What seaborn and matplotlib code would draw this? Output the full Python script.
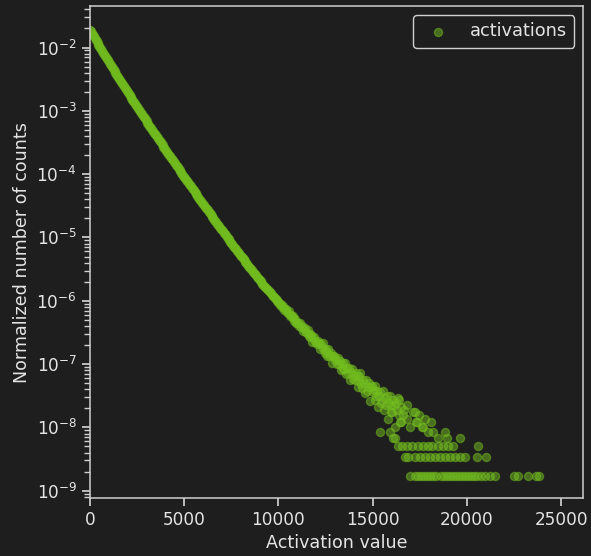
import numpy as np
import pandas as pd
import matplotlib
matplotlib.use("Agg")
import matplotlib.pyplot as plt
import seaborn as sns

# ---------------------------------------------------------------------------
# Histogram of activation values (normalized counts)
# ---------------------------------------------------------------------------

# Dense part: log10 of the normalized count, one bin every 50 units (0 .. 10000)
curve_x = np.arange(0, 10001, 50)
curve_log10 = [
    -1.720, -1.746, -1.773, -1.799, -1.825, -1.851, -1.877, -1.903, -1.929, -1.954,
    -1.980, -2.005, -2.031, -2.056, -2.081, -2.106, -2.131, -2.156, -2.181, -2.205,
    -2.230, -2.254, -2.278, -2.302, -2.326, -2.350, -2.373, -2.397, -2.421, -2.445,
    -2.469, -2.493, -2.517, -2.540, -2.564, -2.588, -2.612, -2.636, -2.660, -2.684,
    -2.708, -2.730, -2.753, -2.776, -2.799, -2.822, -2.845, -2.868, -2.891, -2.913,
    -2.936, -2.959, -2.982, -3.005, -3.028, -3.051, -3.074, -3.096, -3.119, -3.142,
    -3.165, -3.187, -3.210, -3.232, -3.254, -3.276, -3.299, -3.321, -3.343, -3.365,
    -3.388, -3.410, -3.432, -3.454, -3.477, -3.499, -3.521, -3.543, -3.566, -3.588,
    -3.610, -3.632, -3.654, -3.675, -3.697, -3.719, -3.741, -3.762, -3.784, -3.806,
    -3.828, -3.849, -3.871, -3.893, -3.915, -3.936, -3.958, -3.980, -4.002, -4.023,
    -4.045, -4.066, -4.088, -4.109, -4.130, -4.151, -4.173, -4.194, -4.215, -4.236,
    -4.258, -4.279, -4.300, -4.321, -4.343, -4.364, -4.385, -4.406, -4.428, -4.449,
    -4.470, -4.491, -4.512, -4.532, -4.553, -4.574, -4.595, -4.615, -4.636, -4.657,
    -4.678, -4.698, -4.719, -4.740, -4.761, -4.781, -4.802, -4.823, -4.844, -4.864,
    -4.885, -4.905, -4.926, -4.946, -4.966, -4.986, -5.007, -5.027, -5.047, -5.067,
    -5.088, -5.108, -5.128, -5.148, -5.169, -5.189, -5.209, -5.229, -5.250, -5.270,
    -5.290, -5.310, -5.329, -5.348, -5.367, -5.386, -5.406, -5.425, -5.444, -5.463,
    -5.483, -5.502, -5.521, -5.540, -5.560, -5.579, -5.598, -5.617, -5.637, -5.656,
    -5.675, -5.693, -5.710, -5.728, -5.745, -5.763, -5.780, -5.798, -5.815, -5.833,
    -5.850, -5.868, -5.885, -5.903, -5.920, -5.938, -5.955, -5.973, -5.990, -6.008,
    -6.025,
]

# Normalized value of a single count
COUNT_DENSITY = 1.72e-9

# Sparser part: raw counts, one bin every 50 units (10050 .. 16500)
mid_x = np.arange(10050, 16501, 50)
mid_counts = [
    538, 490, 521, 470, 472, 411, 426, 429, 382, 374,
    397, 332, 349, 319, 332, 275, 297, 303, 260, 263,
    260, 231, 257, 226, 231, 194, 207, 213, 185, 182,
    201, 160, 174, 156, 168, 130, 148, 155, 128, 132,
    120, 136, 123, 100, 120, 107, 124, 97, 88, 101,
    94, 77, 99, 78, 81, 87, 60, 78, 79, 67,
    70, 58, 73, 59, 64, 47, 57, 61, 48, 49,
    61, 40, 50, 42, 50, 32, 43, 48, 34, 38,
    33, 42, 37, 25, 37, 31, 42, 28, 24, 32,
    29, 20, 33, 22, 25, 29, 15, 25, 26, 21,
    23, 16, 26, 18, 22, 12, 18, 21, 14, 15,
    22, 11, 17, 13, 18, 8, 14, 18, 10, 13,
    10, 16, 13, 6, 14, 11, 17, 9, 7, 12,
]

# Tail: individual low-count bins
tail_x = [
    # scattered bins with 4..16 counts
    15393, 15924, 16083, 16189, 16380, 16507, 16590, 16667, 16810, 16826,
    16985, 17144, 17260, 17304, 17341, 17463, 17622, 17691, 17781, 17941,
    18100, 18222, 18471, 18843, 18933, 19639,
    # 3 counts
    16364, 16544, 16810, 17075, 17426, 17691, 17956, 18137, 18487, 18753,
    19018, 19283, 20611,
    # 2 counts
    16720, 16895, 17251, 17516, 17781, 18047, 18312, 18577, 18843, 19108,
    19374, 19639, 19904, 20525, 21003,
    # 1 count
    16985, 17251, 17410, 17569, 17728, 17887, 18047, 18206, 18365, 18631,
    18790, 18949, 19108, 19268, 19427, 19586, 19745, 19904, 20064, 20223,
    20382, 20541, 20754, 20966, 21231, 21497, 22505, 22718, 23248, 23673,
    23832,
]
tail_counts = (
    [5, 5, 4, 4, 16, 7, 9, 11, 13, 8,
     6, 10, 10, 7, 7, 9, 6, 6, 8, 5,
     7, 5, 4, 5, 4, 4]
    + [3] * 13
    + [2] * 15
    + [1] * 31
)

activation = np.concatenate([curve_x, mid_x, np.array(tail_x)])
density = np.concatenate([
    10.0 ** np.array(curve_log10),
    np.array(mid_counts) * COUNT_DENSITY,
    np.array(tail_counts) * COUNT_DENSITY,
])
df = pd.DataFrame({"activation": activation, "density": density})

# ---------------------------------------------------------------------------
# Style
# ---------------------------------------------------------------------------
BG = "#1e1e1e"
GREEN = "#72bd1e"
FG = "#e4e4e4"
SPINE = "#cfcfcf"

sns.set_theme(style="ticks", rc={
    "figure.facecolor": BG,
    "axes.facecolor": BG,
    "axes.edgecolor": SPINE,
    "axes.linewidth": 1.1,
    "axes.labelcolor": FG,
    "text.color": FG,
    "xtick.color": SPINE,
    "ytick.color": SPINE,
    "xtick.labelcolor": FG,
    "ytick.labelcolor": FG,
    "xtick.labelsize": 12.2,
    "ytick.labelsize": 12.2,
    "axes.labelsize": 12.6,
    "legend.fontsize": 12.8,
})
plt.rcParams["font.family"] = ["DejaVu Sans"]

fig = plt.figure(figsize=(5.91, 5.56), dpi=100)
ax = fig.add_axes([0.1523, 0.1049, 0.8347, 0.8835])

sns.scatterplot(
    data=df, x="activation", y="density", ax=ax,
    color=GREEN, alpha=0.5, s=34, edgecolor=GREEN, linewidth=1.0,
    label="activations",
)

ax.set_yscale("log")
ax.set_xlim(0, 26180)
ax.set_ylim(7.76e-10, 4.45e-2)
ax.set_xticks([0, 5000, 10000, 15000, 20000, 25000])
ax.set_xlabel("Activation value")
ax.set_ylabel("Normalized number of counts")

leg = ax.legend(loc="upper right", facecolor=BG, edgecolor=SPINE,
                framealpha=1.0, fancybox=True, handletextpad=0.8)
leg.get_frame().set_linewidth(1.0)
for t in leg.get_texts():
    t.set_color(FG)

fig.savefig("out.png", dpi=100, facecolor=BG)
